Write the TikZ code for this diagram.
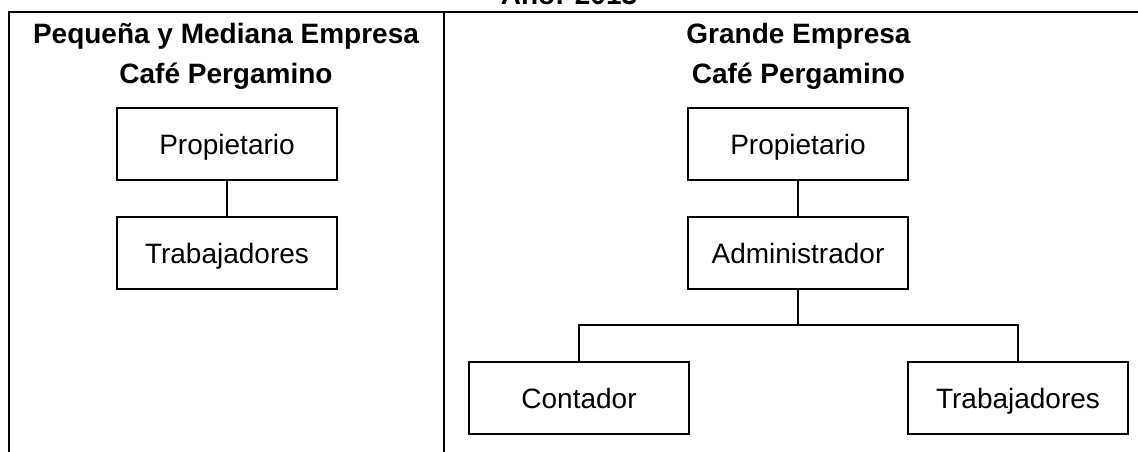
\documentclass[tikz,border=0pt]{standalone}
\usepackage{fontspec}
\setmainfont{Liberation Sans}
\tikzset{
  every picture/.style={x=1pt,y=-1pt},
  rule/.style={draw=black,line width=2pt},
  link/.style={draw=black,line width=1.9pt},
  orgbox/.style={draw=black,line width=2pt,minimum width=220pt,minimum height=72pt,inner sep=0pt,text height=20pt,text depth=0pt,font=\fontsize{28}{28}\selectfont},
  headtext/.style={inner sep=0pt,align=center,anchor=base,font=\fontsize{28}{28}\bfseries\selectfont}
}
\begin{document}
\begin{tikzpicture}
\useasboundingbox (0,0) rectangle (1138,452);
\clip (0,0) rectangle (1138,452);
\fill[white] (0,0) rectangle (1138,452);
\coordinate (fl) at (8.5,452); \coordinate (ftl) at (8.5,12.5); \coordinate (ftr) at (1138,12.5);
\coordinate (dt) at (444,12.5); \coordinate (db) at (444,452);
\draw[rule] (fl) -- (ftl) -- (ftr);
\draw[rule] (dt) -- (db);
\node[headtext] (year) at (569,5) {Año: 2013};
\node[headtext] (h1) at (226,43.5) {Pequeña y Mediana Empresa};
\node[headtext] (h2) at (226,84) {Café Pergamino};
\node[headtext] (h3) at (798.5,43.5) {Grande Empresa};
\node[headtext] (h4) at (798.5,84) {Café Pergamino};
\node[orgbox] (p1) at (227,144) {Propietario};
\node[orgbox] (t1) at (227,253) {Trabajadores};
\node[orgbox] (p2) at (798,144) {Propietario};
\node[orgbox] (a2) at (798,253) {Administrador};
\node[orgbox] (c2) at (579,398) {Contador};
\node[orgbox] (t2) at (1018,398) {Trabajadores};
\draw[link] (p1) -- (t1);
\draw[link] (p2) -- (a2);
\coordinate (jn) at (798,325);
\draw[link] (a2) -- (jn);
\draw[link] (c2.north) |- (jn) -| (t2.north);
\end{tikzpicture}
\end{document}
